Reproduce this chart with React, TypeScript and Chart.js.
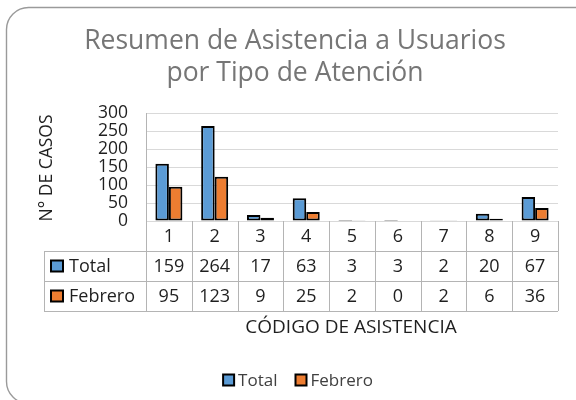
import React, { useEffect, useRef } from "react";
import { Chart, registerables } from "chart.js";

Chart.register(...registerables);

const categories = ["1", "2", "3", "4", "5", "6", "7", "8", "9"];
const totalValues = [159, 264, 17, 63, 3, 3, 2, 20, 67];
const febreroValues = [95, 123, 9, 25, 2, 0, 2, 6, 36];
const seriesNames = ["Total", "Febrero"];
const seriesColors = ["#5B9BD5", "#ED7D31"];
const titleLines = ["Resumen de Asistencia a Usuarios", "por Tipo de Atención"];
const yAxisTitle = "N° DE CASOS";
const xAxisTitle = "CÓDIGO DE ASISTENCIA";
const yMin = 0;
const yMax = 300;
const yStep = 50;

const FONT = "'Open Sans', Lato, sans-serif";
const TEXT = "#1f1f1f";
const LINE = "#b4b4b4";

const seriesValues = [totalValues, febreroValues];

const decorPlugin = {
  id: "decor",
  beforeDraw(chart: any) {
    const ctx = chart.ctx;
    ctx.save();
    ctx.fillStyle = "#ffffff";
    ctx.fillRect(0, 0, chart.width, chart.height);
    ctx.strokeStyle = "#9a9a9a";
    ctx.lineWidth = 1.4;
    ctx.beginPath();
    ctx.roundRect(6.5, 7.5, 592, 396, 22);
    ctx.stroke();
    ctx.restore();
  },
  afterDraw(chart: any) {
    const ctx = chart.ctx;
    const area = chart.chartArea;
    const xs = chart.scales.x;
    const n = categories.length;
    const colW = (area.right - area.left) / n;
    const rowH = 30;
    const top = area.bottom;
    const keyLeft = 44;
    ctx.save();

    // Title
    ctx.fillStyle = "#767676";
    ctx.font = `26.5px ${FONT}`;
    ctx.textAlign = "center";
    ctx.textBaseline = "alphabetic";
    ctx.fillText(titleLines[0], 295, 49);
    ctx.fillText(titleLines[1], 295, 81);

    // Y title
    ctx.save();
    ctx.translate(47, 168);
    ctx.rotate(-Math.PI / 2);
    ctx.fillStyle = TEXT;
    ctx.font = `17.5px ${FONT}`;
    ctx.textAlign = "center";
    ctx.textBaseline = "middle";
    ctx.fillText(yAxisTitle, 0, 0);
    ctx.restore();

    // Table grid
    ctx.strokeStyle = LINE;
    ctx.lineWidth = 1;
    const hline = (x1: number, x2: number, y: number) => {
      ctx.beginPath();
      ctx.moveTo(x1, Math.round(y) + 0.5);
      ctx.lineTo(x2, Math.round(y) + 0.5);
      ctx.stroke();
    };
    const vline = (x: number, y1: number, y2: number) => {
      ctx.beginPath();
      ctx.moveTo(Math.round(x) + 0.5, y1);
      ctx.lineTo(Math.round(x) + 0.5, y2);
      ctx.stroke();
    };
    hline(keyLeft, area.right, top + rowH);
    hline(keyLeft, area.right, top + rowH * 2);
    hline(keyLeft, area.right, top + rowH * 3);
    vline(keyLeft, top + rowH, top + rowH * 3);
    for (let i = 0; i <= n; i++) {
      vline(area.left + i * colW, top, top + rowH * 3);
    }

    // Category row and values
    ctx.fillStyle = TEXT;
    ctx.font = `18px ${FONT}`;
    ctx.textAlign = "center";
    ctx.textBaseline = "middle";
    for (let i = 0; i < n; i++) {
      const cx = xs.getPixelForValue(i);
      ctx.fillText(categories[i], cx, top + rowH / 2 + 1);
      for (let s = 0; s < seriesValues.length; s++) {
        ctx.fillText(String(seriesValues[s][i]), cx, top + rowH * (s + 1) + rowH / 2 + 1);
      }
    }
    // Row keys
    ctx.textAlign = "left";
    for (let s = 0; s < seriesNames.length; s++) {
      const cy = top + rowH * (s + 1) + rowH / 2;
      ctx.fillStyle = seriesColors[s];
      ctx.fillRect(51, cy - 5.5, 12, 11);
      ctx.strokeStyle = "#000";
      ctx.lineWidth = 2;
      ctx.strokeRect(51, cy - 5.5, 12, 11);
      ctx.fillStyle = TEXT;
      ctx.fillText(seriesNames[s], 69, cy + 1);
    }

    // X title
    ctx.textAlign = "center";
    ctx.fillStyle = TEXT;
    ctx.font = `19px ${FONT}`;
    ctx.fillText(xAxisTitle, 351, 328);

    // Legend
    ctx.font = `17px ${FONT}`;
    ctx.textAlign = "left";
    const box = 11;
    const gapBoxText = 4;
    const gapItems = 18;
    let total = 0;
    const widths = seriesNames.map((t) => ctx.measureText(t).width);
    widths.forEach((w, i) => {
      total += box + gapBoxText + w + (i < widths.length - 1 ? gapItems : 0);
    });
    let lx = 298 - total / 2;
    const ly = 380;
    for (let s = 0; s < seriesNames.length; s++) {
      ctx.fillStyle = seriesColors[s];
      ctx.fillRect(lx, ly - box / 2, box, box);
      ctx.strokeStyle = "#000";
      ctx.lineWidth = 2;
      ctx.strokeRect(lx, ly - box / 2, box, box);
      ctx.fillStyle = "#404040";
      ctx.fillText(seriesNames[s], lx + box + gapBoxText, ly + 1);
      lx += box + gapBoxText + widths[s] + gapItems;
    }
    ctx.restore();
  },
};

export default function App() {
  const ref = useRef<HTMLCanvasElement | null>(null);
  useEffect(() => {
    if (!ref.current) return;
    const chart = new Chart(ref.current, {
      type: "bar",
      data: {
        labels: categories,
        datasets: seriesNames.map((name, s) => ({
          label: name,
          data: seriesValues[s],
          backgroundColor: seriesColors[s],
          borderColor: "#000000",
          borderWidth: 2,
          borderSkipped: false,
          categoryPercentage: 0.59,
          barPercentage: 1,
        })),
      },
      options: {
        responsive: false,
        animation: false,
        devicePixelRatio: 1,
        layout: { padding: { top: 113, bottom: 179, left: 0, right: 18 } },
        plugins: {
          legend: { display: false },
          title: { display: false },
          tooltip: { enabled: false },
        },
        scales: {
          x: { display: false },
          y: {
            min: yMin,
            max: yMax,
            ticks: {
              stepSize: yStep,
              autoSkip: false,
              padding: 18,
              color: TEXT,
              font: { family: FONT, size: 17.5 },
            },
            grid: { color: "#d9d9d9", drawTicks: false },
            border: { display: true, color: LINE },
            afterFit: (scale: any) => {
              scale.width = 146;
            },
          },
        },
      },
      plugins: [decorPlugin],
    } as any);
    return () => chart.destroy();
  }, []);
  return (
    <div style={{ position: "absolute", left: 0, top: 0, width: 576, height: 400, background: "#fff" }}>
      <canvas ref={ref} width={576} height={400} style={{ display: "block" }} />
    </div>
  );
}
